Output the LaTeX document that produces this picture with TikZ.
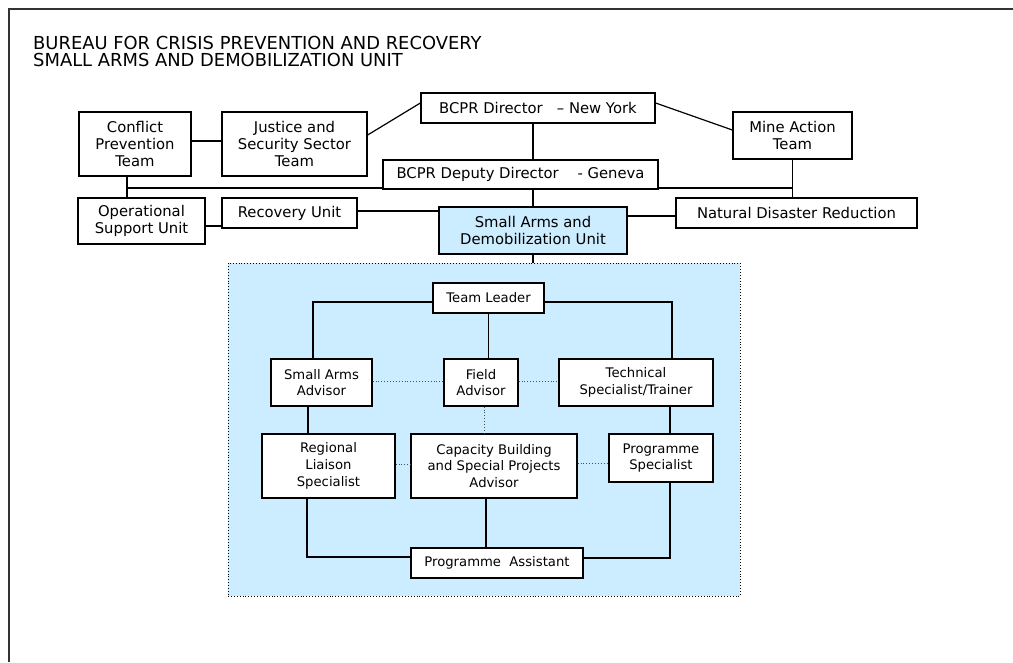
\documentclass[tikz,border=0pt]{standalone}
\usepackage{fontspec}
\setmainfont{DejaVu Sans}
\definecolor{unitblue}{HTML}{CCECFF}
\begin{document}
\begin{tikzpicture}[x=1pt,y=-1pt,
  box/.style={draw=black,line width=1.3pt,fill=white,inner sep=1pt,align=center,
    font=\fontsize{14.8}{16.7}\selectfont},
  ibox/.style={box,font=\fontsize{13.2}{16.7}\selectfont},
  conn/.style={line width=1.2pt,black},
  dotconn/.style={line width=0.9pt,black!70,dotted},
]
\useasboundingbox (0,0) rectangle (1013,662);
% frame
\draw[line width=1.2pt,black!80] (1013,9) -- (9,9) -- (9,662);
\node[anchor=north west,inner sep=0pt,align=left,font=\fontsize{17.9}{16.7}\selectfont] (title) at (33,36)
  {BUREAU FOR CRISIS PREVENTION AND RECOVERY\\SMALL ARMS AND DEMOBILIZATION UNIT};

% upper nodes
\node[box,minimum width=112pt,minimum height=64pt] (cpt) at (135,144) {Conflict\\Prevention\\Team};
\node[box,minimum width=145pt,minimum height=64pt] (jst) at (294.5,144) {Justice and\\Security Sector\\Team};
\node[box,minimum width=234pt,minimum height=30pt] (dir) at (538,108) {BCPR Director\ \ \ -- New York};
\node[box,minimum width=119pt,minimum height=47pt] (mat) at (792.5,135.5) {Mine Action\\Team};
\node[box,minimum width=275pt,minimum height=29pt] (dep) at (520.5,174.5) {BCPR Deputy Director\ \ \ \ - Geneva};
\node[box,minimum width=127pt,minimum height=46pt] (osu) at (141.5,221) {Operational\\Support Unit};
\node[box,minimum width=135pt,minimum height=30pt] (rec) at (289.5,213) {Recovery Unit};
\node[box,fill=unitblue,minimum width=188pt,minimum height=47pt] (sadu) at (533,230.5) {Small Arms and\\Demobilization Unit};
\node[box,minimum width=241pt,minimum height=30pt] (ndr) at (796.5,213) {Natural Disaster Reduction};

\coordinate (jl) at (127,188);
\coordinate (jr) at (792.5,188);

\draw[conn] ([yshift=3pt]cpt.east) -- ([yshift=3pt]cpt.east -| jst.west);
\draw[conn] ([yshift=9pt]jst.east) -- ([yshift=5pt]dir.west);
\draw[conn] ([yshift=5pt]dir.east) -- ([yshift=5.5pt]mat.west);
\draw[conn] (dir.south -| sadu.north) -- (dep.north -| sadu.north);
\draw[conn] (dep.south -| sadu.north) -- (sadu.north);
\draw[conn] (jl) -- (dep.west |- jl);
\draw[conn] (dep.east |- jr) -- (jr);
\draw[conn] (cpt.south -| jl) -- (osu.north -| jl);
\draw[conn] (mat.south) -- (ndr.north -| mat.south);
\draw[conn] ([yshift=-5pt]osu.east) -- ([yshift=-5pt]osu.east -| rec.west);
\draw[conn] ([yshift=2pt]rec.east) -- ([yshift=2pt]rec.east -| sadu.west);
\draw[conn] ([yshift=-3pt]ndr.west -| sadu.east) -- ([yshift=-3pt]ndr.west);

% unit region
\node[draw=black,dotted,line width=0.9pt,fill=unitblue,minimum width=512pt,minimum height=333pt,inner sep=0pt] (unit) at (484,429.5) {};
\draw[conn] (sadu.south) -- (sadu.south |- unit.north);

\node[ibox,minimum width=111pt,minimum height=30pt] (tl) at (488.5,298) {Team Leader};
\node[ibox,minimum width=101pt,minimum height=47pt] (saa) at (321.5,382.5) {Small Arms\\Advisor};
\node[ibox,minimum width=74pt,minimum height=47pt] (fa) at (481,382.5) {Field\\Advisor};
\node[ibox,minimum width=154pt,minimum height=47pt] (tst) at (636,382.5) {Technical\\Specialist/Trainer};
\node[ibox,minimum width=133pt,minimum height=64pt] (rls) at (328.5,466) {Regional\\Liaison\\Specialist};
\node[ibox,minimum width=166pt,minimum height=64pt] (cbs) at (494,466) {Capacity Building\\and Special Projects\\Advisor};
\node[ibox,minimum width=104pt,minimum height=48pt] (ps) at (661,458) {Programme\\Specialist};
\node[ibox,minimum width=172pt,minimum height=30pt] (pa) at (497,563) {Programme\ \ Assistant};

\draw[conn] ([yshift=-4pt]tl.west) -| ([xshift=-8.5pt]saa.north);
\draw[conn] ([yshift=-4pt]tl.east) -| ([xshift=36pt]tst.north);
\draw[conn] (tl.south) -- (tl.south |- fa.north);
\draw[dotconn] ([yshift=1.5pt]saa.east) -- ([yshift=1.5pt]fa.west);
\draw[dotconn] ([yshift=1.5pt]fa.east) -- ([yshift=1.5pt]tst.west);
\draw[conn] ([xshift=-13.5pt]saa.south) -- ([xshift=-13.5pt]saa.south |- rls.north);
\draw[dotconn] ([xshift=3pt]fa.south) -- ([xshift=3pt]fa.south |- cbs.north);
\draw[conn] ([xshift=9pt]tst.south -| ps.north) -- ([xshift=9pt]ps.north);
\draw[dotconn] ([yshift=2pt]rls.east) -- ([yshift=2pt]cbs.west);
\draw[dotconn] ([yshift=3pt]cbs.east) -- ([yshift=3pt]cbs.east -| ps.west);
\draw[conn] ([xshift=-21.5pt]rls.south) |- ([yshift=6pt]pa.west);
\draw[conn] ([xshift=-8pt]cbs.south) -- ([xshift=-8pt]cbs.south |- pa.north);
\draw[conn] ([xshift=9pt]ps.south) |- ([yshift=5pt]pa.east);
\end{tikzpicture}
\end{document}
